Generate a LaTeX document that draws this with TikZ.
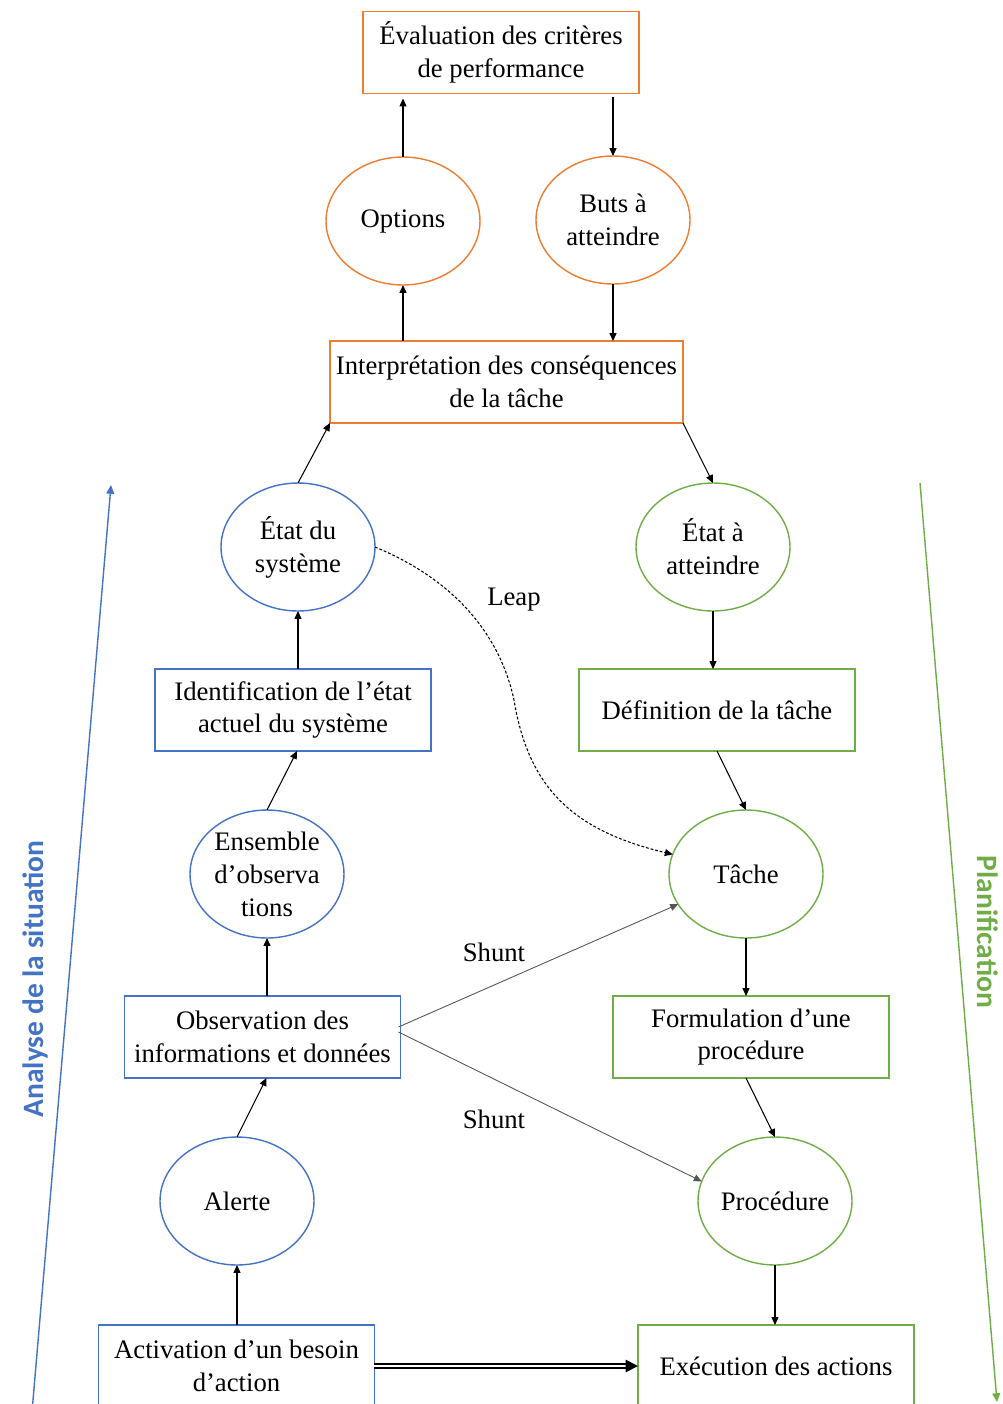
\documentclass[tikz,border=0pt]{standalone}
\usepackage{fontspec}
\setmainfont{Liberation Serif}
\newfontfamily\calib{Carlito}
\usetikzlibrary{arrows.meta,shapes.geometric,calc}
\definecolor{cor}{HTML}{ED7D31}
\definecolor{cbl}{HTML}{4472C4}
\definecolor{cgr}{HTML}{70AD47}
\definecolor{cgy}{HTML}{555555}
\begin{document}
\begin{tikzpicture}[x=0.02cm,y=-0.02cm,
  font=\fontsize{15.2}{18.7}\selectfont,
  box/.style={draw=#1, rectangle, line width=0.7pt, minimum width=5.52cm, minimum height=1.64cm, inner sep=0pt, outer sep=0pt, align=center},
  ell/.style={draw=#1, ellipse, line width=0.8pt, minimum width=3.08cm, minimum height=2.56cm, inner sep=0pt, outer sep=0pt},
  txt/.style={align=center, inner sep=0pt},
  arr/.style={-{Triangle[length=4.5pt,width=4pt]}, line width=0.6pt},
  side/.style={line width=0.8pt, -{Triangle[length=5pt,width=4.5pt]}},
  sidelab/.style={font=\calib\bfseries\fontsize{16.8}{20}\selectfont, inner sep=0pt},
  ]
\useasboundingbox (0,0) rectangle (1002,1404);
\clip (0,0) rectangle (1002,1404);

% nodes
\node[box=cor] (eval) at (501,52.5) {Évaluation des critères\\de performance};
\node[ell=cor,label={[txt]center:Options}] (opt) at (403,221) {};
\node[ell=cor,label={[txt]center:{Buts à\\atteindre}}] (buts) at (613,220) {};
\node[box=cor, minimum width=7.06cm] (interp) at (506.5,382) {Interprétation des conséquences\\de la tâche};

\node[ell=cbl,label={[txt]center:{État du\\système}}] (es) at (298,547) {};
\node[ell=cgr,label={[txt]center:{État à\\atteindre}}] (ea) at (713,547) {};
\node[box=cbl] (ident) at (293,710) {Identification de l’état\\actuel du système};
\node[box=cgr] (def) at (717,710) {Définition de la tâche};
\node[ell=cbl,label={[txt]center:{Ensemble\\d’observa\\tions}}] (ens) at (267,874) {};
\node[ell=cgr,label={[txt]center:Tâche}] (tache) at (746,874) {};
\node[box=cbl] (obs) at (262.5,1037) {Observation des\\informations et données};
\node[box=cgr] (form) at (751,1037) {Formulation d’une\\procédure};
\node[ell=cbl,label={[txt]center:Alerte}] (al) at (237,1201) {};
\node[ell=cgr,label={[txt]center:Procédure}] (proc) at (775,1201) {};
\node[box=cbl] (act) at (236.5,1366) {Activation d’un besoin\\d’action};
\node[box=cgr] (exec) at (776,1366) {Exécution des actions};

% connector labels
\node[txt] (leap) at (514,600) {Leap};
\node[txt] (sh1) at (494,952) {Shunt};
\node[txt] (sh2) at (494,1119) {Shunt};

% vertical arrows
\draw[arr] (opt.north) -- ($(opt.north |- eval.south)+(0,5)$);
\draw[arr] ($(buts.north |- eval.south)+(0,4)$) -- (buts.north);
\draw[arr] (opt.south |- interp.north) -- (opt.south);
\draw[arr] (buts.south) -- (buts.south |- interp.north);
\draw[arr] (es.north) -- (interp.south west);
\draw[arr] (interp.south east) -- (ea.north);
\draw[arr] (es.south |- ident.north) -- (es.south);
\draw[arr] (ea.south) -- (ea.south |- def.north);
\draw[arr] (ens.north) -- ($(ident.south)+(4,0)$);
\draw[arr] (def.south) -- (tache.north);
\draw[arr] (ens.south |- obs.north) -- (ens.south);
\draw[arr] (tache.south) -- (tache.south |- form.north);
\draw[arr] (al.north) -- ($(obs.south)+(4,0)$);
\draw[arr] ($(form.south)+(-5,0)$) -- (proc.north);
\draw[arr] (al.south |- act.north) -- (al.south);
\draw[arr] (proc.south) -- (proc.south |- exec.north);

% double arrow
\draw[double, double distance=1.1pt, line width=1pt, -{Triangle[length=7pt,width=7pt]}] (act.east) -- (exec.west);

% leap
\draw[arr, dash pattern=on 1.6pt off 1.1pt, line width=0.6pt] (es.east) .. controls (455,580) and (500,635) .. (514,700) .. controls (528,785) and (570,830) .. (tache.165);

% shunts
\draw[arr, cgy, line width=0.5pt] ($(obs.east)+(-2,-10)$) -- (tache.204);
\draw[arr, cgy, line width=0.5pt] ($(obs.east)+(-2,-5)$) -- (proc.165);

% side arrows
\coordinate (la1) at (32,1412);
\coordinate (la2) at (111,485);
\coordinate (ra1) at (920,483);
\coordinate (ra2) at (997,1402);
\draw[side, cbl] (la1) -- (la2);
\draw[side, cgr] (ra1) -- (ra2);
\node[sidelab, text=cbl, rotate=90] (lab1) at (35,979) {Analyse de la situation};
\node[sidelab, text=cgr, rotate=-90] (lab2) at (988,932) {Planification};
\end{tikzpicture}
\end{document}
